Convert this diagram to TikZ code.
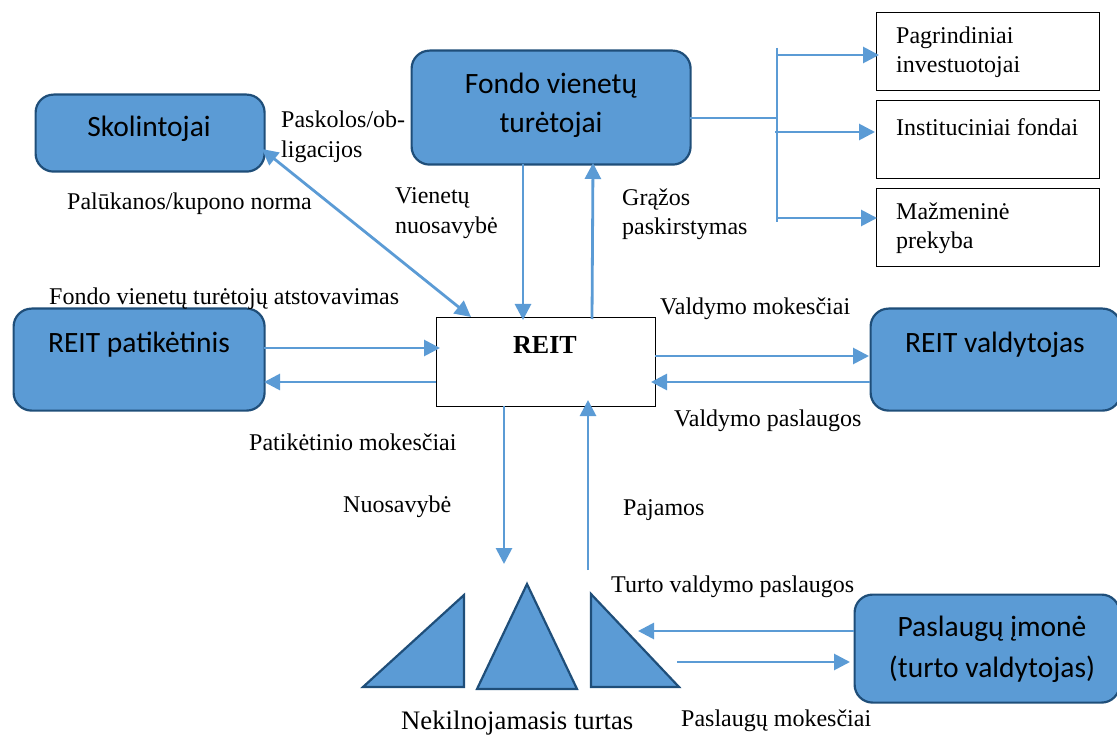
\documentclass[tikz,border=0pt]{standalone}
\usepackage{fontspec}
\setmainfont{Liberation Serif}
\newfontfamily\boxfont{Carlito}
\usetikzlibrary{arrows.meta}
\definecolor{blfill}{HTML}{5B9BD5}
\definecolor{bldark}{HTML}{1F4E79}
\definecolor{blline}{HTML}{5B9BD5}
\tikzset{
  x=1pt,y=-1pt,
  blue box/.style={draw=bldark,line width=2.2pt,fill=blfill,rounded corners=18pt,inner sep=0pt,anchor=north west},
  box text/.style={anchor=center,inner sep=0pt,align=center,text=black},
  white box/.style={draw=black,line width=1pt,fill=white,inner sep=0pt,anchor=north west},
  lab/.style={inner sep=0pt,anchor=west,align=left,font=\fontsize{24}{29.5}\selectfont,text=black},
  conn/.style={draw=blline,line width=2.8pt,-{Triangle[length=16pt,width=16pt]}},
  thin conn/.style={draw=blline,line width=1.3pt},
  tri/.style={draw=bldark,line width=2.2pt,fill=blfill,miter limit=10},
}
\begin{document}
\begin{tikzpicture}
\useasboundingbox (0,0) rectangle (1117,735);
% blue boxes
\node[blue box,minimum width=229pt,minimum height=77pt] (skol) at (34.5,93.5) {};
\node[box text,font=\boxfont\fontsize{29.5}{33}\selectfont] (skolt) at (149,129) {Skolintojai};
\node[blue box,minimum width=279pt,minimum height=114pt] (fondo) at (410.5,49.5) {};
\node[box text,font=\boxfont\fontsize{29.5}{39}\selectfont] (fondot) at (551,105) {Fondo vienetų\\turėtojai};
\node[blue box,minimum width=251pt,minimum height=102pt] (trust) at (12.5,307.5) {};
\node[box text,font=\boxfont\fontsize{29.5}{33}\selectfont] (trustt) at (139,345) {REIT patikėtinis};
\node[blue box,minimum width=250pt,minimum height=102pt] (mgr) at (869.5,307.5) {};
\node[box text,font=\boxfont\fontsize{29.5}{33}\selectfont] (mgrt) at (995,345) {REIT valdytojas};
\node[blue box,minimum width=265pt,minimum height=108pt] (serv) at (853.5,593.5) {};
\node[box text,font=\boxfont\fontsize{29.5}{41}\selectfont] (servt) at (992,649) {Paslaugų įmonė\\(turto valdytojas)};
% white boxes
\node[white box,minimum width=219pt,minimum height=88pt] (reit) at (435.5,317.5) {};
\node[box text,font=\fontsize{26}{28}\selectfont\bfseries] (reitt) at (545,345) {REIT};
\node[white box,minimum width=223pt,minimum height=78pt] (pag) at (875.5,12) {};
\node[white box,minimum width=223pt,minimum height=78pt] (ins) at (875.5,100) {};
\node[white box,minimum width=223pt,minimum height=78pt] (maz) at (875.5,188) {};
% triangles
\draw[tri] (363,687) -- (464,595) -- (464,687) -- cycle;
\draw[tri] (477,689) -- (527,584) -- (577,689) -- cycle;
\draw[tri] (591,594) -- (679,687) -- (591,687) -- cycle;
% free ends
\coordinate (bus) at (777,118);
\coordinate (busT) at (777,48);
\coordinate (busB) at (777,222);
\coordinate (b1) at (778,55);
\coordinate (b2) at (775,132);
\coordinate (b3) at (778,218);
\coordinate (e1) at (879,55);
\coordinate (e2) at (875,132);
\coordinate (e3) at (877,218);
\coordinate (fo) at (690,118);
% bus
\draw[thin conn] (fo) -- (bus);
\draw[thin conn] (busT) -- (busB);
\draw[conn] (b1) -- (e1);
\draw[conn] (b2) -- (e2);
\draw[conn] (b3) -- (e3);
% main arrows
\coordinate (fd1) at (523,164); \coordinate (rt1) at (523,320);
\coordinate (rt2) at (592,319); \coordinate (fd2) at (593,163);
\draw[conn] (fd1) -- (rt1);
\draw[conn] (rt2) -- (fd2);
\coordinate (sk) at (262,149); \coordinate (rs) at (471,317);
\draw[draw=blline,line width=2.8pt,{Triangle[length=16pt,width=16pt]}-{Triangle[length=16pt,width=16pt]}] (sk) -- (rs);
\coordinate (t1) at (264,348); \coordinate (r1) at (440,348);
\coordinate (r2) at (436,382); \coordinate (t2) at (264,382);
\draw[conn] (t1) -- (r1);
\draw[conn] (r2) -- (t2);
\coordinate (r3) at (655,356); \coordinate (m3) at (869,356);
\coordinate (m4) at (870,382); \coordinate (r4) at (651,382);
\draw[conn] (r3) -- (m3);
\draw[conn] (m4) -- (r4);
\coordinate (r5) at (504,406); \coordinate (p5) at (504,564);
\coordinate (p6) at (588,570); \coordinate (r6) at (588,400);
\draw[conn] (r5) -- (p5);
\draw[conn] (p6) -- (r6);
\coordinate (s7) at (854,631); \coordinate (p7) at (638,631);
\coordinate (p8) at (677,662); \coordinate (s8) at (850,662);
\draw[conn] (s7) -- (p7);
\draw[conn] (p8) -- (s8);
% box labels
\node[lab] (lpag) at (896,52) {Pagrindiniai\\investuotojai};
\node[lab] (lins) at (896,127) {Instituciniai fondai};
\node[lab] (lmaz) at (896,228) {Mažmeninė\\prekyba};
% connector labels
\node[lab] (l1) at (281,137) {Paskolos/ob-\\ligacijos};
\node[lab] (l2) at (67,204) {Palūkanos/kupono norma};
\node[lab] (l3) at (395,213) {Vienetų\\nuosavybė};
\node[lab] (l4) at (622,214) {Grąžos\\paskirstymas};
\node[lab] (l5) at (49,299) {Fondo vienetų turėtojų atstovavimas};
\node[lab] (l6) at (660,309) {Valdymo mokesčiai};
\node[lab] (l7) at (674,421) {Valdymo paslaugos};
\node[lab] (l8) at (249,442) {Patikėtinio mokesčiai};
\node[lab] (l9) at (343,507) {Nuosavybė};
\node[lab] (l10) at (623,510) {Pajamos};
\node[lab] (l11) at (611,587) {Turto valdymo paslaugos};
\node[lab] (l12) at (681,721) {Paslaugų mokesčiai};
\node[lab,font=\fontsize{26.7}{27}\selectfont] (l13) at (401,723) {Nekilnojamasis turtas};
\end{tikzpicture}
\end{document}
